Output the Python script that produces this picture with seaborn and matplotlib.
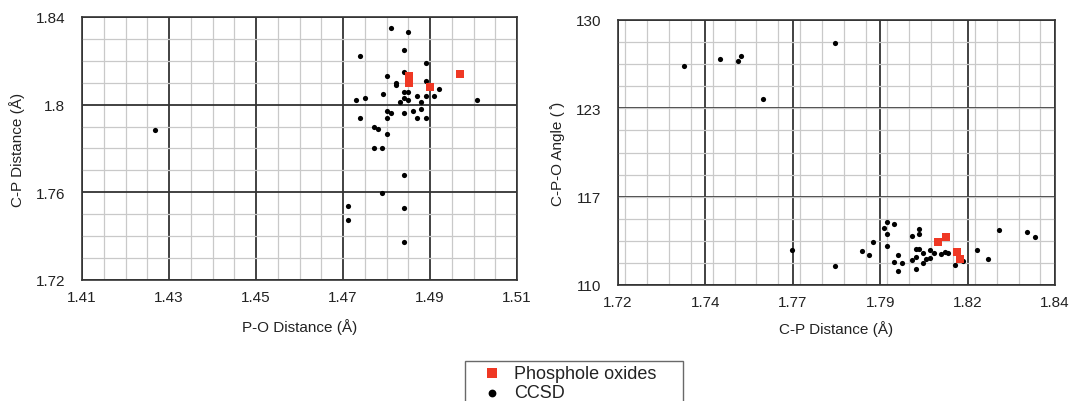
import numpy as np
import pandas as pd
import matplotlib
matplotlib.use("Agg")
import matplotlib.pyplot as plt
import seaborn as sns
from matplotlib.ticker import MultipleLocator, FixedLocator

# ---------------- data ----------------
# Left panel: CCSD structures (P-O distance, C-P distance)
po_ccsd = [1.4811, 1.4850, 1.4840, 1.4740, 1.4890, 1.4840, 1.4801, 1.4890, 1.4821, 1.4822,
           1.4921, 1.4840, 1.4850, 1.4791, 1.4870, 1.4890, 1.4910, 1.4840, 1.4751, 1.4731,
           1.4850, 1.5009, 1.4830, 1.4880, 1.4880, 1.4800, 1.4860, 1.4810, 1.4840, 1.4740,
           1.4800, 1.4870, 1.4890, 1.4771, 1.4781, 1.4800, 1.4771, 1.4790, 1.4840, 1.4790,
           1.4711, 1.4840, 1.4711, 1.4840, 1.4268]
cp_ccsd_left = [1.8350, 1.8330, 1.8250, 1.8220, 1.8190, 1.8150, 1.8130, 1.8110, 1.8100, 1.8090,
                1.8070, 1.8060, 1.8060, 1.8050, 1.8040, 1.8040, 1.8040, 1.8030, 1.8030, 1.8020,
                1.8020, 1.8020, 1.8010, 1.8010, 1.7980, 1.7970, 1.7970, 1.7960, 1.7960, 1.7940,
                1.7940, 1.7940, 1.7940, 1.7900, 1.7890, 1.7867, 1.7800, 1.7800, 1.7678, 1.7597,
                1.7536, 1.7527, 1.7476, 1.7375, 1.7885]

# Right panel: CCSD structures (C-P distance, C-P-O angle)
cp_ccsd_right = [1.7380, 1.7480, 1.7529, 1.7539, 1.7598, 1.7797, 1.7677, 1.7797,
                 1.7871, 1.7889, 1.7900, 1.7930, 1.7940, 1.7959, 1.7940, 1.7940, 1.7969, 1.7979,
                 1.7959, 1.7969, 1.8008, 1.8027, 1.8027, 1.8017, 1.8027, 1.8008, 1.8017, 1.8017,
                 1.8037, 1.8037, 1.8047, 1.8057, 1.8057, 1.8067, 1.8087, 1.8097, 1.8106, 1.8126,
                 1.8147, 1.8186, 1.8216, 1.8245, 1.8324, 1.8344]
angle_ccsd = [126.55, 127.06, 126.93, 127.31, 124.01, 128.29, 112.66, 111.43,
              112.54, 112.24, 113.28, 114.28, 114.73, 114.63, 113.88, 112.91, 112.24, 111.67,
              111.72, 111.05, 113.73, 114.23, 113.88, 112.71, 112.74, 111.89, 112.09, 111.24,
              112.39, 111.67, 111.99, 112.04, 112.61, 112.41, 112.36, 112.46, 112.41, 111.54,
              111.79, 112.66, 111.99, 114.16, 113.98, 113.61]

# Phosphole oxides
po_ox = [1.4900, 1.4851, 1.4851, 1.4969]
cp_ox = [1.8080, 1.8100, 1.8130, 1.8140]
angle_ox = [113.21, 113.61, 112.46, 111.99]

series_names = ["Phosphole oxides", "CCSD"]

# axis ticks
left_xticks = [1.41, 1.43, 1.45, 1.47, 1.49, 1.51]
left_xlabels = ["1.41", "1.43", "1.45", "1.47", "1.49", "1.51"]
left_yticks = [1.72, 1.76, 1.80, 1.84]
left_ylabels = ["1.72", "1.76", "1.8", "1.84"]
right_xticks = [1.72, 1.744, 1.768, 1.792, 1.816, 1.84]
right_xlabels = ["1.72", "1.74", "1.77", "1.79", "1.82", "1.84"]
right_yticks = [110, 116.667, 123.333, 130]
right_ylabels = ["110", "117", "123", "130"]

# ---------------- style ----------------
sns.set_theme(style="white")
plt.rcParams["font.family"] = ["Liberation Sans", "DejaVu Sans"]

RED = "#ef3824"
MAJOR = "#333333"
MINOR = "#c9c9c9"
TXT = "#222222"

fig = plt.figure(figsize=(10.69, 4.02), dpi=100)
ax1 = fig.add_axes([82 / 1069, 1 - 281 / 402, 435 / 1069, 263 / 402])
ax2 = fig.add_axes([618 / 1069, 1 - 286 / 402, 437 / 1069, 265 / 402])

df_left_c = pd.DataFrame({"x": po_ccsd, "y": cp_ccsd_left})
df_left_o = pd.DataFrame({"x": po_ox, "y": cp_ox})
df_right_c = pd.DataFrame({"x": cp_ccsd_right, "y": angle_ccsd})
df_right_o = pd.DataFrame({"x": cp_ox, "y": angle_ox})


def style_axes(ax, xt, xl, yt, yl, xminor, yminor, xlim, ylim):
    ax.set_xlim(*xlim)
    ax.set_ylim(*ylim)
    ax.xaxis.set_major_locator(FixedLocator(xt))
    ax.set_xticklabels(xl)
    ax.yaxis.set_major_locator(FixedLocator(yt))
    ax.set_yticklabels(yl)
    ax.xaxis.set_minor_locator(MultipleLocator(xminor))
    ax.yaxis.set_minor_locator(MultipleLocator(yminor))
    ax.grid(which="minor", color=MINOR, linewidth=0.9, zorder=0)
    ax.grid(which="major", color=MAJOR, linewidth=1.3, zorder=1)
    ax.set_axisbelow(True)
    ax.tick_params(which="both", length=0, labelsize=11, colors=TXT)
    ax.tick_params(axis="x", pad=7)
    ax.tick_params(axis="y", pad=12)
    for s in ax.spines.values():
        s.set_color(MAJOR)
        s.set_linewidth(1.2)


for ax, dc, do in [(ax1, df_left_c, df_left_o), (ax2, df_right_c, df_right_o)]:
    sns.scatterplot(data=dc, x="x", y="y", ax=ax, color="black", marker="o", s=14,
                    linewidth=0, label=series_names[1], zorder=3)
    sns.scatterplot(data=do, x="x", y="y", ax=ax, color=RED, marker="s", s=26,
                    linewidth=0, label=series_names[0], zorder=4)

style_axes(ax1, left_xticks, left_xlabels, left_yticks, left_ylabels,
           0.005, 0.01, (1.41, 1.51), (1.72, 1.84))
style_axes(ax2, right_xticks, right_xlabels, right_yticks, right_ylabels,
           0.006, 20 / 12, (1.72, 1.84), (110, 130))

ax1.set_xlabel("P-O Distance (Å)", fontsize=11, color=TXT, labelpad=10)
ax1.set_ylabel("C-P Distance (Å)", fontsize=11, color=TXT, labelpad=8)
ax2.set_xlabel("C-P Distance (Å)", fontsize=11, color=TXT, labelpad=8)
ax2.set_ylabel("C-P-O Angle ( ̊)", fontsize=11, color=TXT, labelpad=8)

handles, labels = ax1.get_legend_handles_labels()
ax1.get_legend().remove()
ax2.get_legend().remove()
order = [labels.index(n) for n in series_names]
leg = fig.legend([handles[i] for i in order], [labels[i] for i in order],
                 loc="upper left", mode="expand",
                 bbox_to_anchor=(465 / 1069, 1 - 366 / 402, 218 / 1069, 4 / 402),
                 frameon=True, fancybox=False, edgecolor="#444444", fontsize=13,
                 handletextpad=-0.1, borderpad=0.2, labelspacing=0.15, markerscale=1.5,
                 handlelength=2.6, borderaxespad=0)
leg.get_frame().set_linewidth(1.0)
for t in leg.get_texts():
    t.set_color(TXT)

fig.savefig("out.png", dpi=100)
